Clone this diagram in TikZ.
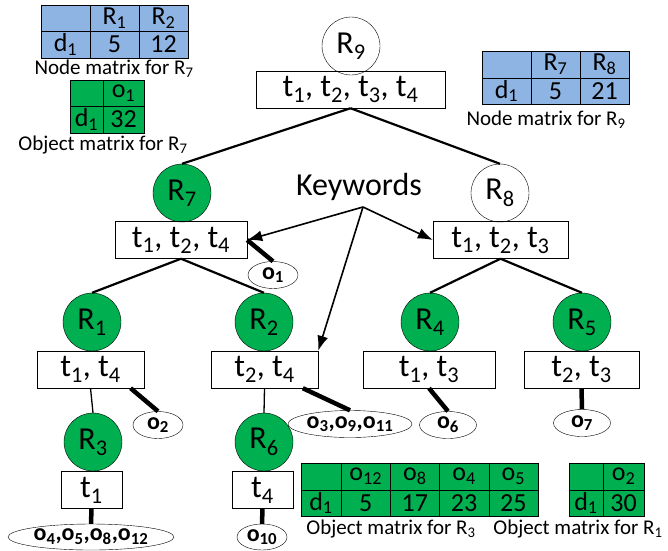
\documentclass[tikz,border=0pt]{standalone}
\usepackage{fontspec}
\setmainfont{Carlito}
\usetikzlibrary{arrows.meta,shapes.geometric}
\definecolor{rgreen}{HTML}{00B050}
\definecolor{mblue}{HTML}{8EB4E3}
\newcommand{\ix}[1]{\textsubscript{#1}}

\tikzset{
  rnode/.style={circle,draw,inner sep=0,minimum size=58pt,font=\fontsize{32}{32}\selectfont},
  gnode/.style={rnode,fill=rgreen},
  kbox/.style={draw,inner sep=0,minimum height=37pt,minimum width=#1,font=\fontsize{32}{32}\selectfont},
  obj/.style={draw,ellipse,inner sep=0,minimum height=27pt,minimum width=#1,font=\fontsize{24}{24}\selectfont\bfseries},
  objline/.style={line width=4.5pt},
  treeline/.style={line width=2.2pt},
  cell/.style={draw,inner sep=0,minimum width=#1,minimum height=26.5pt,font=\fontsize{26}{26}\selectfont},
  mlabel/.style={inner sep=0,font=\fontsize{21}{21}\selectfont},
  kwarrow/.style={line width=1.6pt,-{Latex[length=15pt,width=11pt]}}
}

\begin{document}
\begin{tikzpicture}[x=1pt,y=-1pt]
  \useasboundingbox (0,0) rectangle (668,550);

  % tree nodes
  \node[rnode] (R9) at (351,46) {R\ix{9}};
  \node[kbox=189pt] (kb9) at (350.5,89.5) {t\ix{1}, t\ix{2}, t\ix{3}, t\ix{4}};

  \node[gnode] (R7) at (182,193) {R\ix{7}};
  \node[kbox=132pt] (kb7) at (181,240) {t\ix{1}, t\ix{2}, t\ix{4}};
  \node[rnode] (R8) at (500,193) {R\ix{8}};
  \node[kbox=135pt] (kb8) at (500.5,240) {t\ix{1}, t\ix{2}, t\ix{3}};

  \node[gnode] (R1) at (92,322) {R\ix{1}};
  \node[kbox=107pt] (kb1) at (90.5,369.5) {t\ix{1}, t\ix{4}};
  \node[gnode] (R2) at (264,322) {R\ix{2}};
  \node[kbox=107pt] (kb2) at (264.5,369.5) {t\ix{2}, t\ix{4}};
  \node[gnode] (R4) at (430,322) {R\ix{4}};
  \node[kbox=132pt] (kb4) at (429,369.5) {t\ix{1}, t\ix{3}};
  \node[gnode] (R5) at (582,322) {R\ix{5}};
  \node[kbox=115pt] (kb5) at (581.5,369.5) {t\ix{2}, t\ix{3}};

  \node[gnode] (R3) at (93,442) {R\ix{3}};
  \node[kbox=61pt] (kb3) at (91.5,490) {t\ix{1}};
  \node[gnode] (R6) at (264,442) {R\ix{6}};
  \node[kbox=61pt] (kb6) at (262.5,490) {t\ix{4}};

  % objects
  \node[obj=50pt] (o1) at (273,275) {o\ix{1}};
  \node[obj=50pt] (o2) at (158,425) {o\ix{2}};
  \node[obj=124pt] (o3) at (350,424) {o\ix{3},o\ix{9},o\ix{11}};
  \node[obj=57pt] (o6) at (448,425) {o\ix{6}};
  \node[obj=57pt] (o7) at (582,423) {o\ix{7}};
  \node[obj=166pt,minimum height=26pt] (o4) at (91,537) {o\ix{4},o\ix{5},o\ix{8},o\ix{12}};
  \node[obj=50pt,minimum height=26pt] (o10) at (262,537) {o\ix{10}};

  % tree edges
  \draw[treeline] (kb9.south) -- (R7.north);
  \draw[treeline] (kb9.south) -- (R8.north);
  \draw[treeline] (kb7.south) -- (R1.north);
  \draw[treeline] (kb7.south) -- (R2.north);
  \draw[treeline] (kb8.south) -- (R4.north);
  \draw[treeline] (kb8.south) -- (R5.north);
  \draw[line width=1.3pt] (kb1.south) -- (R3.north);
  \draw[line width=1.3pt] (kb2.south) -- (R6.north);

  \draw[objline] (kb7.east) -- (o1.north);
  \draw[objline] (kb1.-25) -- (o2.north);
  \draw[objline] (kb2.-26) -- (o3.north);
  \draw[objline] (kb4.south) -- (o6.north);
  \draw[objline] (kb5.south) -- (o7.north);
  \draw[objline] (kb3.south) -- (o4.north);
  \draw[objline] (kb6.south) -- (o10.north);

  % keywords
  \node[font=\fontsize{32}{32}\selectfont] (kw) at (359,187) {Keywords};
  \coordinate (kwpt) at (363,207);
  \draw[kwarrow] (kwpt) -- (kb7.east);
  \draw[kwarrow] (kwpt) -- (kb8.west);
  \draw[kwarrow] (kwpt) -- (kb2.north east);

  % node matrix for R7
  \node[cell=49pt,fill=mblue] (nm7a) at (65.5,18) {};
  \node[cell=49pt,fill=mblue] (nm7b) at (65.5,44.5) {d\ix{1}};
  \foreach \h/\v [count=\i] in {R\ix{1}/5, R\ix{2}/12}
  {
    \node[cell=49pt,fill=mblue] (nm7h\i) at (65.5+49*\i,18) {\h};
    \node[cell=49pt,fill=mblue] (nm7v\i) at (65.5+49*\i,44.5) {\v};
  }
  \node[mlabel] (nm7l) at (114,69) {Node matrix for R\ix{7}};

  % object matrix for R7
  \node[cell=33pt,fill=rgreen] (om7a) at (86.5,93) {};
  \node[cell=33pt,fill=rgreen] (om7b) at (86.5,119.5) {d\ix{1}};
  \node[cell=41pt,fill=rgreen] (om7h) at (123.5,93) {o\ix{1}};
  \node[cell=41pt,fill=rgreen] (om7v) at (123.5,119.5) {32};
  \node[mlabel] (om7l) at (103,145) {Object matrix for R\ix{7}};

  % node matrix for R9
  \node[cell=49pt,fill=mblue] (nm9a) at (506.5,64.5) {};
  \node[cell=49pt,fill=mblue] (nm9b) at (506.5,91) {d\ix{1}};
  \foreach \h/\v [count=\i] in {R\ix{7}/5, R\ix{8}/21}
  {
    \node[cell=49pt,fill=mblue] (nm9h\i) at (506.5+49*\i,64.5) {\h};
    \node[cell=49pt,fill=mblue] (nm9v\i) at (506.5+49*\i,91) {\v};
  }
  \node[mlabel] (nm9l) at (546,120) {Node matrix for R\ix{9}};

  % object matrix for R3
  \node[cell=40pt,fill=rgreen] (om3a) at (321,476.5) {};
  \node[cell=40pt,fill=rgreen] (om3b) at (321,503) {d\ix{1}};
  \foreach \h/\v [count=\i] in {o\ix{12}/5, o\ix{8}/17, o\ix{4}/23, o\ix{5}/25}
  {
    \node[cell=49.25pt,fill=rgreen] (om3h\i) at (316.4+49.25*\i,476.5) {\h};
    \node[cell=49.25pt,fill=rgreen] (om3v\i) at (316.4+49.25*\i,503) {\v};
  }
  \node[mlabel] (om3l) at (391,529) {Object matrix for R\ix{3}};

  % object matrix for R1
  \node[cell=34pt,fill=rgreen] (om1a) at (586,476.5) {};
  \node[cell=34pt,fill=rgreen] (om1b) at (586,503) {d\ix{1}};
  \node[cell=41pt,fill=rgreen] (om1h) at (623.5,476.5) {o\ix{2}};
  \node[cell=41pt,fill=rgreen] (om1v) at (623.5,503) {30};
  \node[mlabel] (om1l) at (578,529) {Object matrix for R\ix{1}};
\end{tikzpicture}
\end{document}
